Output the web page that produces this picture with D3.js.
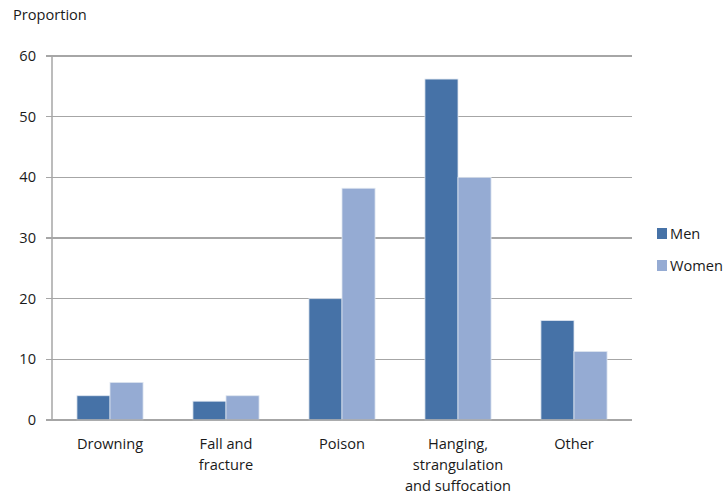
<!DOCTYPE html>
<html><head><meta charset="utf-8">
<script src="https://cdn.jsdelivr.net/npm/d3@7"></script>
<style>body{margin:0;background:#fff}svg{display:block;font-family:"Open Sans",sans-serif}</style>
</head><body><svg id="c" width="728" height="496"></svg>
<script>
const categories = ["Drowning", "Fall and fracture", "Poison", "Hanging, strangulation and suffocation", "Other"];
const categoryLines = [["Drowning"], ["Fall and", "fracture"], ["Poison"], ["Hanging,", "strangulation", "and suffocation"], ["Other"]];
const seriesNames = ["Men", "Women"];
const men = [4.0, 3.1, 20, 56.2, 16.4];
const women = [6.2, 4.0, 38.2, 40.0, 11.3];
const yTicks = [0, 10, 20, 30, 40, 50, 60];
const colors = ["#4672a7", "#95abd3"];

const svg = d3.select("#c");
const m = {l: 52, r: 96, t: 56, b: 76};
const W = 728, H = 496;
const x = d3.scaleBand().domain(categories).range([m.l, W - m.r]).paddingInner(0.43).paddingOuter(0.215);
const x1 = d3.scaleBand().domain(seriesNames).range([0, x.bandwidth()]);
const y = d3.scaleLinear().domain([0, 60]).range([H - m.b, m.t]);
const textColor = "#1a1a1a";
const fs = 14.6;

svg.append("g").selectAll("line").data(yTicks).join("line")
  .attr("x1", m.l - 6).attr("x2", W - m.r).attr("y1", d => y(d)).attr("y2", d => y(d))
  .attr("stroke", "#a6a6a6").attr("stroke-width", 1.5).attr("shape-rendering", "crispEdges");
svg.append("line").attr("x1", m.l).attr("x2", m.l).attr("y1", y(60)).attr("y2", y(0))
  .attr("stroke", "#a6a6a6").attr("stroke-width", 1.5);
svg.append("g").selectAll("text").data(yTicks).join("text")
  .attr("x", 36).attr("y", d => y(d) + 5).attr("text-anchor", "end")
  .attr("font-size", fs).attr("fill", textColor).text(d => d);

svg.append("text").attr("x", 13).attr("y", 20).attr("font-size", fs).attr("fill", textColor).text("Proportion");

const data = categories.map((c, i) => ({c, vals: [men[i], women[i]]}));
const g = svg.append("g").selectAll("g").data(data).join("g")
  .attr("transform", d => `translate(${x(d.c)},0)`);
g.selectAll("rect").data(d => d.vals.map((v, j) => ({v, s: seriesNames[j], j}))).join("rect")
  .attr("x", d => x1(d.s)).attr("width", x1.bandwidth())
  .attr("y", d => y(d.v)).attr("height", d => y(0) - y(d.v))
  .attr("fill", d => colors[d.j]).attr("stroke", "#dfe6f0").attr("stroke-width", 0.8);

svg.append("line").attr("x1", m.l - 6).attr("x2", W - m.r).attr("y1", y(0)).attr("y2", y(0))
  .attr("stroke", "#a6a6a6").attr("stroke-width", 1.5);

svg.append("g").selectAll("text").data(categories).join("text")
  .attr("x", d => x(d) + x.bandwidth() / 2).attr("y", 449)
  .attr("text-anchor", "middle").attr("font-size", fs).attr("fill", textColor)
  .each(function(d, i) {
    d3.select(this).selectAll("tspan").data(categoryLines[i]).join("tspan")
      .attr("x", x(d) + x.bandwidth() / 2).attr("dy", (t, k) => k === 0 ? 0 : 21).text(t => t);
  });

const lg = svg.append("g").selectAll("g").data(seriesNames).join("g")
  .attr("transform", (d, i) => `translate(657,${228 + i * 32})`);
lg.append("rect").attr("width", 10).attr("height", 11).attr("fill", (d, i) => colors[i]);
lg.append("text").attr("x", 13).attr("y", 11).attr("font-size", fs).attr("fill", textColor).text(d => d);
</script></body></html>
